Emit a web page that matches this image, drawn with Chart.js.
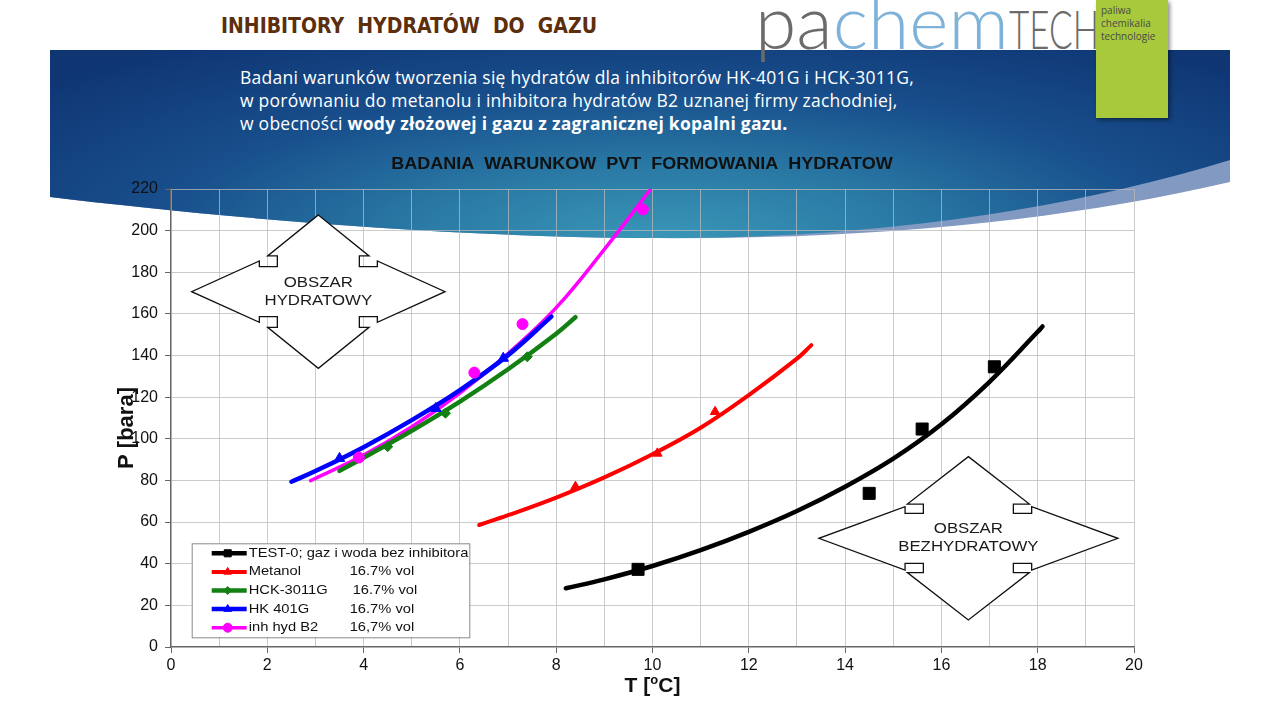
<!DOCTYPE html>
<html>
<head>
<meta charset="utf-8">
<script src="https://cdn.jsdelivr.net/npm/chart.js@4.4.1/dist/chart.umd.min.js"></script>
<style>
  html, body { margin: 0; padding: 0; }
  body { width: 1280px; height: 720px; position: relative; overflow: hidden; background: #fff; }
  #band, #banner { position: absolute; left: 50px; top: 50px; width: 1180px; height: 200px; }
  #band { background: #8299c2;
    clip-path: path('M0,0 L1180,0 L1180,132 C1000,174 800,190 590,188 C370,186 150,165 0,147 Z'); }
  #banner { background: radial-gradient(ellipse 70% 120% at 52% 95%, #3a97b8 0%, #2a7aa5 30%, #184f8c 62%, #0f3573 100%);
    clip-path: path('M0,0 L1180,0 L1180,110 C1000,165 800,190 590,188 C370,186 150,165 0,147 Z'); }
  #title { position: absolute; left: 221px; top: 14px; font: bold 21px "DejaVu Sans Condensed", sans-serif; color: #5c2e0c; white-space: pre; }
  #logo { position: absolute; left: 755px; top: -18px; font: 300 75px Lato, sans-serif; line-height: 76px; white-space: pre; }
  #logo .g { color: #6b6b6b; }
  #logo .b { color: #7fb2d8; }
  #logo .t { color: #6b6b6b; display: inline-block; font-size: 53px; transform: scaleX(0.66); transform-origin: left bottom; }
  #green { position: absolute; left: 1096px; top: 0; width: 72px; height: 118px; background: #a7c93b;
    box-shadow: 2px 2px 4px rgba(0,0,0,0.45); font: 10px "Open Sans", sans-serif; line-height: 13px; color: #4a4a4a; padding: 4px 0 0 5px; box-sizing: border-box; }
  #sub { position: absolute; left: 240px; top: 66px; font: 17.5px "Open Sans", sans-serif; letter-spacing: 0.25px; line-height: 23px; color: #fff; white-space: pre; }
  #chart { position: absolute; left: 0; top: 0; }
</style>
</head>
<body>
<div id="band"></div>
<div id="banner"></div>
<div id="title">INHIBITORY  HYDRATÓW  DO  GAZU</div>
<div id="logo"><span class="g">pa</span><span class="b">chem</span><span class="t">TECH</span></div>
<div id="green">paliwa<br>chemikalia<br>technologie</div>
<div id="sub">Badani warunków tworzenia się hydratów dla inhibitorów HK-401G i HCK-3011G,
w porównaniu do metanolu i inhibitora hydratów B2 uznanej firmy zachodniej,
w obecności <b>wody złożowej i gazu z zagranicznej kopalni gazu.</b></div>
<canvas id="chart" width="1280" height="720"></canvas>
<script>
// values (T in degC, P in bara)
// fitted curves
const testT = [8.2, 9, 10, 11, 12, 13, 14, 15, 16, 17, 18, 18.1];
const testP = [28.2, 32.5, 38.9, 46.5, 55.3, 65.3, 77.0, 90.5, 107.0, 127.4, 151.4, 154.0];
const metT = [6.4, 7, 8, 9, 10, 11, 12, 13, 13.3];
const metP = [58.6, 63.3, 71.8, 81.5, 92.6, 105.3, 121.0, 138.5, 145.0];
const hckT = [3.5, 4, 5, 6, 7, 8, 8.4];
const hckP = [84.6, 90.9, 103.9, 117.9, 133.4, 150.5, 158.4];
const hkT = [2.5, 3, 4, 5, 6, 7, 7.9];
const hkP = [79.4, 84.5, 96.0, 109.0, 123.4, 140.2, 158.7];
const b2T = [2.9, 3, 4, 5, 6, 7, 8, 9, 9.95];
const b2P = [79.9, 81.0, 92.2, 105.8, 122.0, 141.0, 163.0, 191.0, 219.5];

// measured points
const testPtT = [9.7, 14.5, 15.6, 17.1];
const testPtP = [37.3, 73.8, 104.7, 134.6];
const metPtT = [8.4, 10.1, 11.3];
const metPtP = [77.0, 93.0, 113.0];
const hckPtT = [4.5, 5.7, 7.4];
const hckPtP = [96.2, 112.3, 139.4];
const hkPtT = [3.5, 5.5, 6.9];
const hkPtP = [90.6, 114.6, 138.7];
const b2PtT = [3.9, 6.3, 7.3, 9.8];
const b2PtP = [91.0, 131.8, 155.1, 210.2];

const seriesNames = ['TEST-0; gaz i woda bez inhibitora', 'Metanol', 'HCK-3011G', 'HK 401G', 'inh hyd B2'];
const seriesConc = ['', '16.7% vol', '16.7% vol', '16.7% vol', '16,7% vol'];
const xTicks = [0, 2, 4, 6, 8, 10, 12, 14, 16, 18, 20];

const chartTitle = 'BADANIA  WARUNKOW  PVT  FORMOWANIA  HYDRATOW';
const zoneTexts = [['OBSZAR', 'HYDRATOWY'], ['OBSZAR', 'BEZHYDRATOWY']];

// styling / layout
const lineColors = ['#000000', '#ff0000', '#138013', '#0000ff', '#ff00ff'];
const markerStyles = ['rect', 'triangle', 'rectRot', 'triangle', 'circle'];
const markerSizes = [8.5, 5.5, 5, 6, 5.5];
const legendMarkerSizes = [5, 4.5, 4, 4.5, 4.5];
const lineWidths = [4.5, 4, 4.5, 4.5, 3.5];
const zoneShapes = [
  { t: 3.06, p: 170.7, tv: 76.7, th: 126.7, vhb: 35.7, vhw: 50.7, vsw: 41, hsh: 25, hhb: 59, hhh: 30.7 },
  { t: 16.56, p: 52.2, tv: 81.7, th: 149.5, vhb: 34.3, vhw: 61, vsw: 45, hsh: 25, hhb: 63.3, hhh: 31.7 },
];

const toXY = (ts, ps) => ts.map((t, i) => ({ x: t, y: ps[i] }));
const curves = [[testT, testP], [metT, metP], [hckT, hckP], [hkT, hkP], [b2T, b2P]];
const points = [[testPtT, testPtP], [metPtT, metPtP], [hckPtT, hckPtP], [hkPtT, hkPtP], [b2PtT, b2PtP]];

const datasets = [];
curves.forEach((c, i) => {
  datasets.push({
    type: 'line',
    label: seriesNames[i],
    data: toXY(c[0], c[1]),
    borderColor: lineColors[i],
    borderWidth: lineWidths[i],
    pointRadius: 0,
    tension: 0.4,
    borderCapStyle: 'round',
    fill: false,
    order: 10,
  });
});
points.forEach((p, i) => {
  datasets.push({
    type: 'scatter',
    label: seriesNames[i] + ' pkt',
    data: toXY(p[0], p[1]),
    backgroundColor: lineColors[i],
    borderColor: lineColors[i],
    pointStyle: markerStyles[i],
    pointRadius: markerSizes[i],
    order: 1,
  });
});

// text with horizontal stretch (the slide is a bit wider than the fonts)
function stretchText(ctx, text, x, y, font, align, sx) {
  ctx.save();
  ctx.font = font;
  ctx.textAlign = align;
  ctx.textBaseline = 'middle';
  ctx.translate(x, y);
  ctx.scale(sx, 1);
  ctx.fillText(text, 0, 0);
  ctx.restore();
}

function quadArrow(ctx, cx, cy, s) {
  const pts = [
    [0, -s.tv], [s.vhw, -s.vhb], [s.vsw, -s.vhb], [s.vsw, -s.hsh], [s.hhb, -s.hsh], [s.hhb, -s.hhh],
    [s.th, 0], [s.hhb, s.hhh], [s.hhb, s.hsh], [s.vsw, s.hsh], [s.vsw, s.vhb], [s.vhw, s.vhb],
    [0, s.tv], [-s.vhw, s.vhb], [-s.vsw, s.vhb], [-s.vsw, s.hsh], [-s.hhb, s.hsh], [-s.hhb, s.hhh],
    [-s.th, 0], [-s.hhb, -s.hhh], [-s.hhb, -s.hsh], [-s.vsw, -s.hsh], [-s.vsw, -s.vhb], [-s.vhw, -s.vhb],
  ];
  ctx.beginPath();
  pts.forEach(([dx, dy], i) => (i ? ctx.lineTo(cx + dx, cy + dy) : ctx.moveTo(cx + dx, cy + dy)));
  ctx.closePath();
  ctx.fillStyle = '#fff';
  ctx.fill();
  ctx.lineWidth = 1.3;
  ctx.strokeStyle = '#111';
  ctx.stroke();
}

const decor = {
  id: 'decor',
  beforeDatasetsDraw(chart) {
    const { ctx, scales: { x, y } } = chart;
    zoneShapes.forEach((s, i) => {
      const cx = x.getPixelForValue(s.t);
      const cy = y.getPixelForValue(s.p);
      quadArrow(ctx, cx, cy, s);
      ctx.fillStyle = '#1a1a1a';
      stretchText(ctx, zoneTexts[i][0], cx, cy - 9, '15px "Liberation Sans", Arial', 'center', 1.12);
      stretchText(ctx, zoneTexts[i][1], cx, cy + 9, '15px "Liberation Sans", Arial', 'center', 1.12);
    });
  },
  afterDatasetsDraw(chart) {
    const { ctx, chartArea: a } = chart;
    // legend box inside the plot
    const bx = a.left + 20.7, by = a.bottom - 103.7, bw = 277.6, bh = 94;
    ctx.save();
    ctx.fillStyle = '#fff';
    ctx.fillRect(bx, by, bw, bh);
    ctx.strokeStyle = '#8a8a8a';
    ctx.lineWidth = 1;
    ctx.strokeRect(bx + 0.5, by + 0.5, bw, bh);
    seriesNames.forEach((name, i) => {
      const ry = by + 10 + i * 18.6;
      ctx.strokeStyle = lineColors[i];
      ctx.lineWidth = lineWidths[i];
      ctx.beginPath();
      ctx.moveTo(bx + 20, ry);
      ctx.lineTo(bx + 55, ry);
      ctx.stroke();
      ctx.fillStyle = lineColors[i];
      ctx.lineWidth = 1;
      Chart.helpers.drawPoint(ctx, { pointStyle: markerStyles[i], radius: legendMarkerSizes[i], borderWidth: 1 }, bx + 36, ry);
      ctx.fillStyle = '#111';
      stretchText(ctx, name, bx + 57, ry, '13px "Liberation Sans", Arial', 'left', 1.13);
      if (seriesConc[i]) {
        stretchText(ctx, seriesConc[i], bx + 158 + (i === 2 ? 3 : 0), ry, '13px "Liberation Sans", Arial', 'left', 1.13);
      }
    });
    ctx.restore();
  },
  afterDraw(chart) {
    const { ctx, chartArea: a } = chart;
    ctx.save();
    ctx.fillStyle = '#111';
    stretchText(ctx, chartTitle, 642, a.top - 24, 'bold 16px "Liberation Sans", Arial', 'center', 1.125);
    // x axis title  T [oC]
    ctx.font = 'bold 21px "Liberation Sans", Arial';
    ctx.textBaseline = 'middle';
    ctx.textAlign = 'left';
    const p1 = 'T [', p2 = 'C]';
    const w1 = ctx.measureText(p1).width, w2 = ctx.measureText(p2).width;
    ctx.font = 'bold 13px "Liberation Sans", Arial';
    const wo = ctx.measureText('o').width;
    const startX = (a.left + a.right) / 2 - (w1 + wo + w2) / 2;
    const ty = a.bottom + 39;
    ctx.font = 'bold 21px "Liberation Sans", Arial';
    ctx.fillText(p1, startX, ty);
    ctx.fillText(p2, startX + w1 + wo, ty);
    ctx.font = 'bold 13px "Liberation Sans", Arial';
    ctx.fillText('o', startX + w1, ty - 6);
    // y axis title, rotated, sits over the tick labels as in the original
    ctx.translate(127, 428);
    ctx.rotate(-Math.PI / 2);
    ctx.font = 'bold 22px "Liberation Sans", Arial';
    ctx.textAlign = 'center';
    ctx.fillText('P [bara]', 0, 0);
    ctx.restore();
  },
};

Chart.defaults.font.family = '"Liberation Sans", Arial, sans-serif';

new Chart(document.getElementById('chart'), {
  type: 'scatter',
  data: { datasets },
  options: {
    responsive: false,
    animation: false,
    devicePixelRatio: 1,
    layout: { padding: { left: 0, right: 146, top: 189, bottom: 0 } },
    plugins: { legend: { display: false }, tooltip: { enabled: false }, title: { display: false } },
    scales: {
      x: {
        type: 'linear',
        min: 0,
        max: 20,
        afterFit(scale) { scale.height = 73; },
        ticks: {
          stepSize: 1,
          padding: 3,
          color: '#111',
          font: { size: 16 },
          maxRotation: 0,
          autoSkip: false,
          callback(v) { return xTicks.includes(v) ? String(v) : ''; },
        },
        grid: {
          color: 'rgba(185,185,185,0.75)',
          tickLength: 6,
          tickColor: (c) => (c.tick && xTicks.includes(c.tick.value) ? '#666' : 'rgba(0,0,0,0)'),
        },
        border: { color: '#666', width: 1.3 },
      },
      y: {
        type: 'linear',
        min: 0,
        max: 220,
        afterFit(scale) { scale.width = 171; },
        ticks: { stepSize: 20, padding: 7, color: '#111', font: { size: 16 } },
        grid: { color: 'rgba(185,185,185,0.75)', tickLength: 6, tickColor: '#666' },
        border: { color: '#666', width: 1.3 },
      },
    },
  },
  plugins: [decor],
});
</script>
</body>
</html>
